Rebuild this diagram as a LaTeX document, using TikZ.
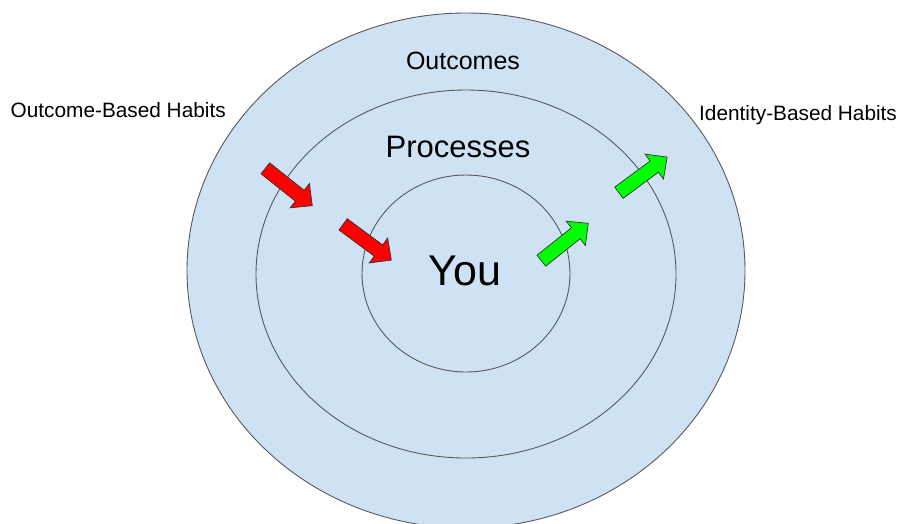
\documentclass[tikz,border=0pt]{standalone}
\usepackage{fontspec}
\setmainfont{Liberation Sans}
\definecolor{ringfill}{HTML}{CFE2F3}
\definecolor{ringline}{HTML}{595959}
\definecolor{arrred}{HTML}{FF0000}
\definecolor{arrgreen}{HTML}{00FF00}
\definecolor{arrline}{HTML}{333333}
\tikzset{
  ring/.style={fill=ringfill, draw=ringline, line width=0.9pt},
  blockarrow/.pic={\draw[pic actions] (-30,-7) -- (14,-7) -- (14,-15.5) -- (30,0) -- (14,15.5) -- (14,7) -- (-30,7) -- cycle;},
  arrowline/.style={draw=arrline, line width=0.7pt, line join=miter},
  lbl/.style={inner sep=0pt, text=black},
}
\begin{document}
\begin{tikzpicture}[x=1pt,y=-1pt]
\useasboundingbox (0,0) rectangle (901,523);
\clip (0,0) rectangle (901,523);
\fill[white] (0,0) rectangle (901,523);
% rings
\draw[ring] (466,270.5) ellipse [x radius=279pt, y radius=257.5pt];
\draw[ring] (466,274) ellipse [x radius=210pt, y radius=184pt];
\draw[ring] (466,273.5) ellipse [x radius=104pt, y radius=98.5pt];
% labels
\node[lbl, anchor=base] (outcomes) at (463,69) {\fontsize{25}{30}\selectfont Outcomes};
\node[lbl, anchor=base] (processes) at (458,157) {\fontsize{31}{36}\selectfont Processes};
\node[lbl, anchor=base] (you) at (465,285) {\fontsize{43}{50}\selectfont You};
\node[lbl, anchor=base west] (obh) at (10.5,117.3) {\fontsize{20.8}{25}\selectfont Outcome-Based Habits};
\node[lbl, anchor=base west] (ibh) at (699,120) {\fontsize{20.8}{25}\selectfont Identity-Based Habits};
% arrows
\pic[arrowline, fill=arrred, rotate=-38.5] (red1) at (288.8,187) {blockarrow};
\pic[arrowline, fill=arrred, rotate=-36.5] (red2) at (367.2,242.2) {blockarrow};
\pic[arrowline, fill=arrgreen, rotate=38.5] (green1) at (564.8,242) {blockarrow};
\pic[arrowline, fill=arrgreen, rotate=36.5] (green2) at (643,174.9) {blockarrow};
\end{tikzpicture}
\end{document}
